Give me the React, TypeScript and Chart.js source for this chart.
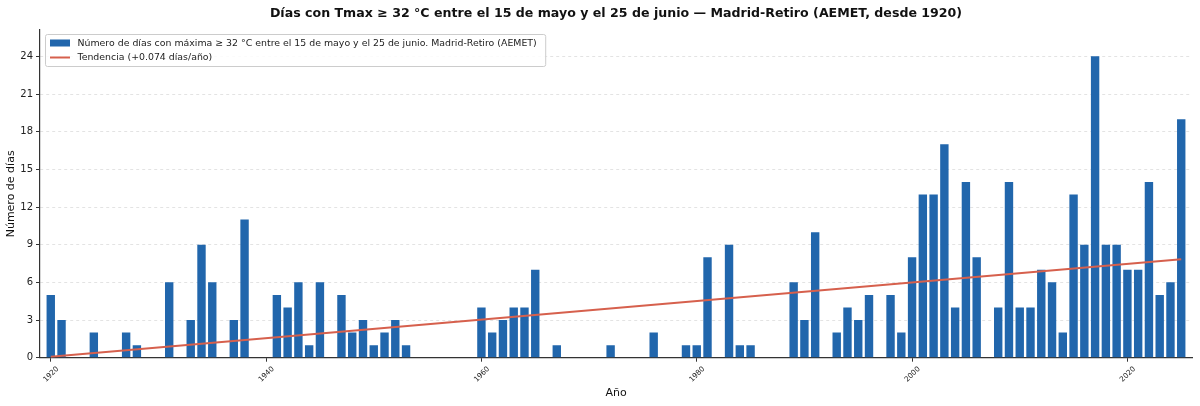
import { useEffect, useRef } from "react";
import { Chart, registerables } from "chart.js";

Chart.register(...registerables);

const TITLE = "Días con Tmax ≥ 32 °C entre el 15 de mayo y el 25 de junio — Madrid-Retiro (AEMET, desde 1920)";
const BAR_LABEL = "Número de días con máxima ≥ 32 °C entre el 15 de mayo y el 25 de junio. Madrid-Retiro (AEMET)";
const TREND_LABEL = "Tendencia (+0.074 días/año)";
const X_TITLE = "Año";
const Y_TITLE = "Número de días";

const years = [
  1920, 1921, 1922, 1923, 1924, 1925, 1926, 1927, 1928, 1929,
  1930, 1931, 1932, 1933, 1934, 1935, 1936, 1937, 1938, 1939,
  1940, 1941, 1942, 1943, 1944, 1945, 1946, 1947, 1948, 1949,
  1950, 1951, 1952, 1953, 1954, 1955, 1956, 1957, 1958, 1959,
  1960, 1961, 1962, 1963, 1964, 1965, 1966, 1967, 1968, 1969,
  1970, 1971, 1972, 1973, 1974, 1975, 1976, 1977, 1978, 1979,
  1980, 1981, 1982, 1983, 1984, 1985, 1986, 1987, 1988, 1989,
  1990, 1991, 1992, 1993, 1994, 1995, 1996, 1997, 1998, 1999,
  2000, 2001, 2002, 2003, 2004, 2005, 2006, 2007, 2008, 2009,
  2010, 2011, 2012, 2013, 2014, 2015, 2016, 2017, 2018, 2019,
  2020, 2021, 2022, 2023, 2024, 2025,
];

const days = [
  5, 3, 0, 0, 2, 0, 0, 2, 1, 0,
  0, 6, 0, 3, 9, 6, 0, 3, 11, 0,
  0, 5, 4, 6, 1, 6, 0, 5, 2, 3,
  1, 2, 3, 1, 0, 0, 0, 0, 0, 0,
  4, 2, 3, 4, 4, 7, 0, 1, 0, 0,
  0, 0, 1, 0, 0, 0, 2, 0, 0, 1,
  1, 8, 0, 9, 1, 1, 0, 0, 0, 6,
  3, 10, 0, 2, 4, 3, 5, 0, 5, 2,
  8, 13, 13, 17, 4, 14, 8, 0, 4, 14,
  4, 4, 7, 6, 2, 13, 9, 24, 9, 9,
  7, 7, 14, 5, 6, 19,
];

const trendYears = [1920, 2025];
const trendValues = [0.08, 7.85];

const xTicks = [1920, 1940, 1960, 1980, 2000, 2020];
const yTicks = [0, 3, 6, 9, 12, 15, 18, 21, 24];

const X_MIN = 1919;
const X_MAX = 2026;
const Y_MAX = 26.1;

const BAR_COLOR = "#2166ac";
const TREND_COLOR = "#d6604d";
const FONT = '"DejaVu Sans", sans-serif';

const overlayPlugin = {
  id: "overlay",
  afterDraw(chart: any) {
    const { ctx, chartArea } = chart;
    ctx.save();
    // title
    ctx.font = `bold 12.6px ${FONT}`;
    ctx.fillStyle = "#111";
    ctx.textAlign = "center";
    ctx.textBaseline = "middle";
    ctx.fillText(TITLE, (chartArea.left + chartArea.right) / 2, 13.5);

    // legend
    const lx = chartArea.left + 5.5;
    const ly = chartArea.top + 4.5;
    ctx.font = `9.4px ${FONT}`;
    const tw = Math.max(ctx.measureText(BAR_LABEL).width, ctx.measureText(TREND_LABEL).width);
    const w = 37 + tw + 4;
    const h = 32;
    ctx.beginPath();
    const r = 2;
    ctx.moveTo(lx + r, ly);
    ctx.lineTo(lx + w - r, ly);
    ctx.quadraticCurveTo(lx + w, ly, lx + w, ly + r);
    ctx.lineTo(lx + w, ly + h - r);
    ctx.quadraticCurveTo(lx + w, ly + h, lx + w - r, ly + h);
    ctx.lineTo(lx + r, ly + h);
    ctx.quadraticCurveTo(lx, ly + h, lx, ly + h - r);
    ctx.lineTo(lx, ly + r);
    ctx.quadraticCurveTo(lx, ly, lx + r, ly);
    ctx.closePath();
    ctx.fillStyle = "rgba(255,255,255,0.85)";
    ctx.fill();
    ctx.strokeStyle = "#cccccc";
    ctx.lineWidth = 1;
    ctx.stroke();

    ctx.fillStyle = BAR_COLOR;
    ctx.fillRect(lx + 4.5, ly + 5, 20, 7);
    ctx.strokeStyle = TREND_COLOR;
    ctx.lineWidth = 2;
    ctx.beginPath();
    ctx.moveTo(lx + 4.5, ly + 23);
    ctx.lineTo(lx + 24.5, ly + 23);
    ctx.stroke();

    ctx.fillStyle = "#222";
    ctx.textAlign = "left";
    ctx.textBaseline = "middle";
    ctx.fillText(BAR_LABEL, lx + 32, ly + 9);
    ctx.fillText(TREND_LABEL, lx + 32, ly + 23);
    ctx.restore();
  },
};

export default function App() {
  const canvasRef = useRef<HTMLCanvasElement | null>(null);

  useEffect(() => {
    if (!canvasRef.current) return;
    const chart = new Chart(canvasRef.current, {
      type: "bar",
      data: {
        datasets: [
          {
            type: "bar",
            label: BAR_LABEL,
            data: years.map((y, i) => ({ x: y, y: days[i] })),
            backgroundColor: BAR_COLOR,
            borderWidth: 0,
            barPercentage: 0.78,
            categoryPercentage: 1.0,
            order: 1,
          } as any,
          {
            type: "line",
            label: TREND_LABEL,
            data: trendYears.map((y, i) => ({ x: y, y: trendValues[i] })),
            borderColor: TREND_COLOR,
            borderWidth: 2,
            pointRadius: 0,
            fill: false,
            order: 0,
          } as any,
        ],
      },
      options: {
        animation: false,
        responsive: false,
        maintainAspectRatio: false,
        devicePixelRatio: 1,
        layout: { padding: { left: 0, right: 8, top: 30, bottom: 0 } },
        plugins: {
          legend: { display: false },
          title: { display: false },
          tooltip: { enabled: false },
        },
        scales: {
          x: {
            type: "linear",
            min: X_MIN,
            max: X_MAX,
            offset: false,
            afterBuildTicks: (scale: any) => {
              scale.ticks = xTicks.map((v) => ({ value: v }));
            },
            afterFit: (scale: any) => {
              scale.height = 48.3;
            },
            ticks: {
              minRotation: 45,
              maxRotation: 45,
              autoSkip: false,
              labelOffset: 7,
              padding: 3,
              color: "#222",
              font: { family: FONT, size: 7.3 },
              callback: (v: any) => String(v),
            },
            grid: {
              offset: false,
              drawOnChartArea: false,
              drawTicks: true,
              tickLength: 4,
              tickColor: "#333",
              tickWidth: 1,
            },
            border: { display: true, color: "#333", width: 1.2 },
            title: {
              display: true,
              text: X_TITLE,
              color: "#111",
              font: { family: FONT, size: 11 },
              padding: { top: 0, bottom: 6 },
            },
          },
          y: {
            type: "linear",
            min: 0,
            max: Y_MAX,
            afterBuildTicks: (scale: any) => {
              scale.ticks = yTicks.map((v) => ({ value: v }));
            },
            afterFit: (scale: any) => {
              scale.width = 40;
            },
            ticks: {
              padding: 3,
              color: "#222",
              font: { family: FONT, size: 10 },
              callback: (v: any) => String(v),
            },
            grid: {
              offset: false,
              color: "rgba(0,0,0,0.14)",
              lineWidth: 0.8,
              drawTicks: true,
              tickLength: 4,
              tickColor: "#333",
              tickWidth: 1,
              tickBorderDash: [],
            },
            border: { display: true, color: "#333", width: 1.2, dash: [3, 3] },
            title: {
              display: true,
              text: Y_TITLE,
              color: "#111",
              font: { family: FONT, size: 11 },
              padding: { top: 5, bottom: 2 },
            },
          },
        },
      } as any,
      plugins: [overlayPlugin],
    });
    return () => chart.destroy();
  }, []);

  return (
    <div style={{ position: "fixed", left: 0, top: 0, width: 1200, height: 406, background: "#fff" }}>
      <canvas ref={canvasRef} width={1200} height={406} style={{ width: 1200, height: 406, display: "block" }} />
    </div>
  );
}
